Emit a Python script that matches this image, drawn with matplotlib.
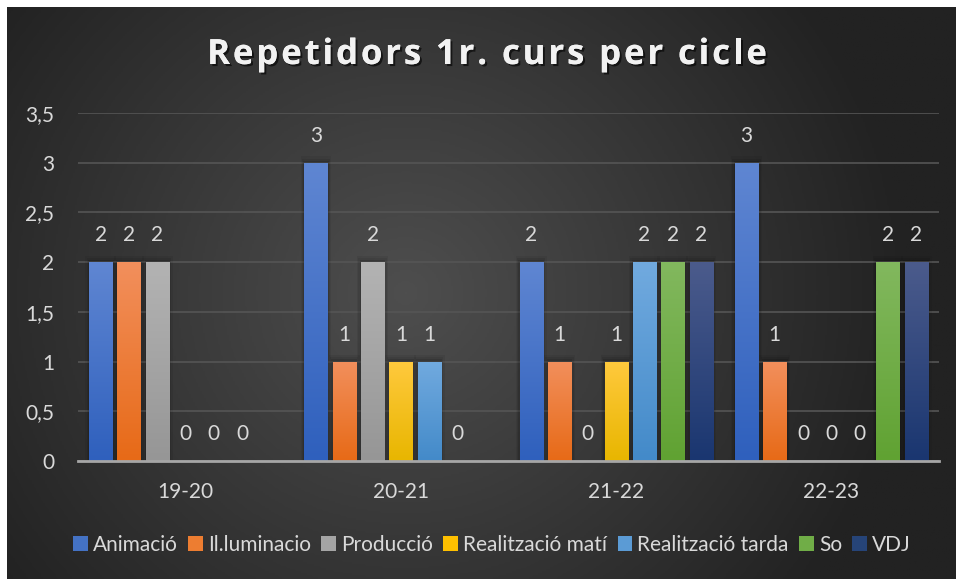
import numpy as np
import matplotlib
matplotlib.use('Agg')
import matplotlib.pyplot as plt
import matplotlib.patheffects as pe
from matplotlib.colors import LinearSegmentedColormap
from matplotlib.patches import Patch

cursos = ['19-20', '20-21', '21-22', '22-23']
series = ['Animació', 'Il.luminacio', 'Producció', 'Realització matí',
          'Realització tarda', 'So', 'VDJ']
animacio = [2, 3, 2, 3]
illuminacio = [2, 1, 1, 1]
produccio = [2, 2, 0, 0]
realitzacio_mati = [0, 1, 1, 0]
realitzacio_tarda = [0, 1, 2, 0]
so = [0, 0, 2, 2]
vdj = [np.nan, np.nan, 2, 2]
valors = [animacio, illuminacio, produccio, realitzacio_mati,
          realitzacio_tarda, so, vdj]
titol = 'Repetidors 1r. curs per cicle'

# (top, bottom) of each bar gradient
colors = [('#5f86d2', '#2f60bd'), ('#f28f5c', '#e76a17'), ('#b3b3b3', '#969696'),
          ('#ffc93d', '#e8b600'), ('#71aadf', '#438ac9'), ('#82b85e', '#60a232'),
          ('#4b5b8c', '#1a3670')]
legend_colors = ['#4472c4', '#ed7d31', '#a5a5a5', '#ffc000', '#5b9bd5', '#70ad47', '#264478']

W, H = 956, 579
fig = plt.figure(figsize=(W / 100, H / 100), dpi=100, facecolor='white')

# radial gradient background
bg = fig.add_axes([7 / W, 0, 1 - 7 / W, 1 - 7 / H])
bg.set_axis_off()
yy, xx = np.mgrid[0:1:300j, 0:1:500j]
r = np.sqrt(((xx - 0.42) * 1.6) ** 2 + ((yy - 0.5) * 1.0) ** 2)
bgcmap = LinearSegmentedColormap.from_list('bg', ['#4e4e4e', '#383838', '#222222'])
bg.imshow(r, cmap=bgcmap, aspect='auto', extent=[0, 1, 0, 1], vmin=0, vmax=0.85)
bg.set_xlim(0, 1)
bg.set_ylim(0, 1)

ax = fig.add_axes([78 / W, 1 - 461 / H, (939 - 78) / W, (461 - 113) / H])
ax.set_facecolor('none')

txt = '#d9d9d9'
font = 'Lato'
fsize = 15
pitch = 0.1315
width = 0.107
x = np.arange(len(cursos))

for j, (nom, vals) in enumerate(zip(series, valors)):
    pos = x + (j - 3) * pitch
    bars = ax.bar(pos, vals, width, color='none', edgecolor='none', zorder=3)
    cmap = LinearSegmentedColormap.from_list(nom, [colors[j][1], colors[j][0]])
    for b, v in zip(bars, vals):
        if np.isnan(v):
            continue
        x0, y0 = b.get_x(), b.get_y()
        w, h = b.get_width(), b.get_height()
        if v > 0:
            # soft shadow
            for k, a in enumerate([0.10, 0.08, 0.06]):
                d = 0.006 * (k + 1)
                ax.add_patch(plt.Rectangle((x0 - d, y0), w + 2 * d, h + d * 3.5,
                                           color='black', alpha=a, zorder=2, lw=0))
            grad = np.linspace(0, 1, 100).reshape(-1, 1)
            im = ax.imshow(grad, cmap=cmap, origin='lower', aspect='auto',
                           extent=[x0, x0 + w, y0, y0 + h], zorder=3)
            im.set_clip_path(b)
        ax.annotate(f'{int(v)}', (x0 + w / 2, v), xytext=(0, 12), textcoords='offset points',
                    ha='center', va='bottom', color=txt, fontsize=fsize, family=font, zorder=5)

ax.set_xlim(-0.5, 3.5)
ax.set_ylim(0, 3.5)
ax.set_yticks(np.arange(0, 3.51, 0.5))
ax.set_yticklabels(['0', '0,5', '1', '1,5', '2', '2,5', '3', '3,5'])
ax.set_xticks(x)
ax.set_xticklabels(cursos)
ax.grid(axis='y', color='#555555', lw=1.2, zorder=0)
ax.tick_params(length=0, colors=txt, labelsize=fsize)
ax.tick_params(axis='y', pad=17)
ax.tick_params(axis='x', pad=15)
for lab in ax.get_xticklabels() + ax.get_yticklabels():
    lab.set_family(font)
for s in ['top', 'right', 'left']:
    ax.spines[s].set_visible(False)
ax.spines['bottom'].set_color('#a6a6a6')
ax.spines['bottom'].set_linewidth(2)
ax.spines['bottom'].set_zorder(4)

# title with letter spacing
tkw = dict(color='#f2f2f2', fontsize=25, fontweight='bold', family='Open Sans', va='center',
           path_effects=[pe.withSimplePatchShadow(offset=(1.5, -1.5), shadow_rgbFace='black', alpha=0.6),
                         pe.Normal()])
renderer = fig.canvas.get_renderer()


def ample(s):
    t = fig.text(0, 0, s, **tkw)
    w = t.get_window_extent(renderer).width
    t.remove()
    return w


sp = 2.9
total = ample(titol) + sp * (len(titol) - 1)
xs = 487 - total / 2
for i, ch in enumerate(titol):
    if ch == ' ':
        continue
    xi = xs + ample(titol[:i]) + sp * i if i > 0 else xs
    fig.text(xi / W, 1 - 55 / H, ch, ha='left', **tkw)

handles = [Patch(facecolor=c, edgecolor='none') for c in legend_colors]
leg = fig.legend(handles, series, loc='center', bbox_to_anchor=(492 / W, 1 - 545 / H), ncol=7,
                 frameon=False, handlelength=0.7, handleheight=0.7, handletextpad=0.25,
                 columnspacing=0.5, prop={'family': font, 'size': fsize})
for t in leg.get_texts():
    t.set_color(txt)

fig.savefig('out.png', dpi=100, facecolor=fig.get_facecolor())
